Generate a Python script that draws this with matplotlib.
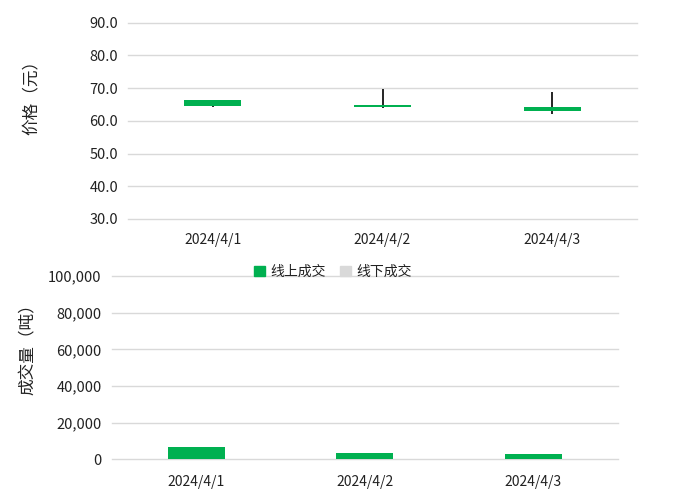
import matplotlib
matplotlib.use("Agg")
import matplotlib.pyplot as plt
from matplotlib.patches import Patch
import numpy as np

plt.rcParams['font.family'] = ['Noto Sans CJK SC', 'DejaVu Sans']

dates = ["2024/4/1", "2024/4/2", "2024/4/3"]
open_p = [66.4, 64.8, 64.3]
close_p = [64.4, 64.2, 62.9]
high_p = [66.4, 69.8, 68.7]
low_p = [64.1, 63.9, 62.0]
online_vol = [6700, 3400, 2900]
offline_vol = [0, 0, 0]

green = "#00B050"
gray = "#D9D9D9"
grid_c = "#D9D9D9"
txt_c = "#222222"

fig = plt.figure(figsize=(6.74, 4.97), dpi=100)

# ---- price axes ----
ax1 = fig.add_axes([128/674, 1-219/497, (637-128)/674, (219-22.7)/497])
x = np.arange(len(dates))
body_bottom = [min(o, c) for o, c in zip(open_p, close_p)]
body_h = [abs(o - c) for o, c in zip(open_p, close_p)]
ax1.vlines(x, low_p, high_p, color="black", lw=1.2, zorder=2)
ax1.bar(x, body_h, bottom=body_bottom, width=0.335, color=green, zorder=3)
ax1.set_xlim(-0.5, len(dates) - 0.5)
ax1.set_ylim(30, 90)
ax1.set_yticks(np.arange(30, 91, 10))
ax1.set_yticklabels([f"{v:.1f}" for v in np.arange(30, 91, 10)])
ax1.set_xticks(x)
ax1.set_xticklabels(dates)
ax1.yaxis.grid(True, color=grid_c, lw=1)
for gl in ax1.get_ygridlines():
    gl.set_clip_on(False)
ax1.set_axisbelow(True)
for s in ax1.spines.values():
    s.set_visible(False)
ax1.tick_params(length=0, colors=txt_c)
ax1.tick_params(axis='x', labelsize=10, pad=10)
ax1.tick_params(axis='y', labelsize=10.5, pad=7)
ax1.set_ylabel("价格（元）", fontsize=12, color=txt_c)
ax1.yaxis.set_label_coords(-0.173, 0.64)

# ---- volume axes ----
ax2 = fig.add_axes([112/674, 1-459.3/497, (617.5-112)/674, (459.3-276)/497])
ax2.bar(x, online_vol, width=0.34, color=green, label="线上成交", zorder=3)
ax2.bar(x, offline_vol, width=0.34, bottom=online_vol, color=gray, label="线下成交", zorder=3)
ax2.set_xlim(-0.5, len(dates) - 0.5)
ax2.set_ylim(0, 100000)
ax2.set_yticks(np.arange(0, 100001, 20000))
ax2.set_yticklabels([f"{int(v):,}" for v in np.arange(0, 100001, 20000)])
ax2.set_xticks(x)
ax2.set_xticklabels(dates)
ax2.yaxis.grid(True, color=grid_c, lw=1)
for gl in ax2.get_ygridlines():
    gl.set_clip_on(False)
ax2.set_axisbelow(True)
for s in ax2.spines.values():
    s.set_visible(False)
ax2.tick_params(length=0, colors=txt_c)
ax2.tick_params(axis='x', labelsize=10, pad=11)
ax2.tick_params(axis='y', labelsize=10.5, pad=7.5)
ax2.set_ylabel("成交量（吨）", fontsize=12, color=txt_c)
ax2.yaxis.set_label_coords(-0.148, 0.623)

handles = [Patch(color=green, label="线上成交"), Patch(color=gray, label="线下成交")]
fig.legend(handles=handles, loc="center", bbox_to_anchor=(333/674, 1-272/497),
           ncol=2, frameon=False, fontsize=10, handlelength=0.8, handleheight=0.8,
           handletextpad=0.4, columnspacing=1.0, labelcolor=txt_c)

fig.savefig("out.png", dpi=100)
